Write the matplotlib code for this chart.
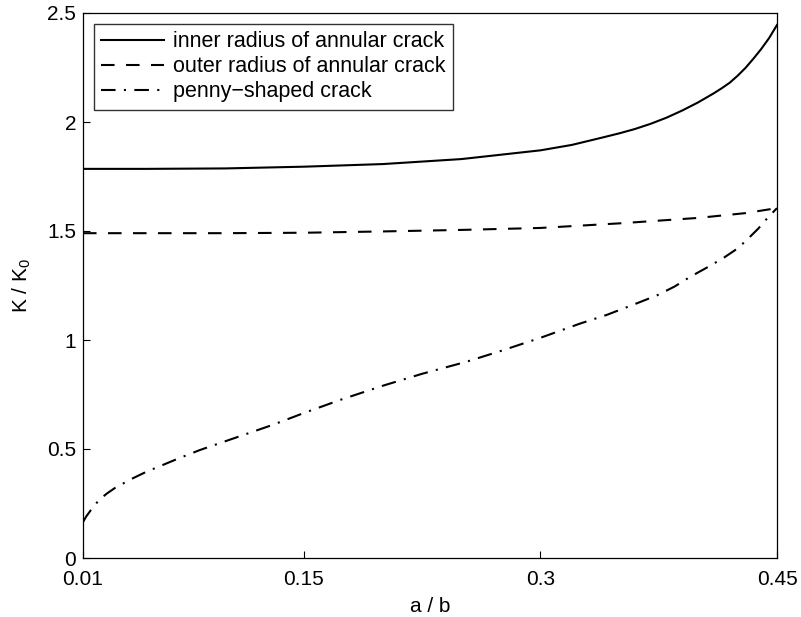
import matplotlib
matplotlib.use("Agg")
import matplotlib.pyplot as plt

plt.rcParams['font.family'] = ['Liberation Sans', 'DejaVu Sans']
plt.rcParams['mathtext.fontset'] = 'custom'
plt.rcParams['mathtext.rm'] = 'Liberation Sans'
plt.rcParams['mathtext.it'] = 'Liberation Sans:italic'

inner_x = [0.01, 0.05, 0.10, 0.15, 0.20, 0.25, 0.30, 0.32, 0.34, 0.35, 0.36, 0.37, 0.38, 0.39,
           0.40, 0.41, 0.415, 0.42, 0.425, 0.43, 0.435, 0.44, 0.445, 0.45]
inner_y = [1.785, 1.785, 1.787, 1.795, 1.807, 1.83, 1.87, 1.895, 1.93, 1.948, 1.968, 1.992, 2.02, 2.053,
           2.09, 2.132, 2.155, 2.18, 2.212, 2.248, 2.29, 2.335, 2.385, 2.445]

outer_x = [0.01, 0.05, 0.10, 0.15, 0.20, 0.25, 0.30, 0.35, 0.40, 0.43, 0.45]
outer_y = [1.49, 1.49, 1.49, 1.492, 1.498, 1.505, 1.514, 1.535, 1.56, 1.582, 1.605]

penny_x = [0.01, 0.012, 0.015, 0.02, 0.025, 0.03, 0.04, 0.05, 0.07, 0.084, 0.10, 0.116, 0.13, 0.15, 0.173,
           0.20, 0.225, 0.253, 0.275, 0.30, 0.325, 0.342, 0.36, 0.374, 0.385, 0.395, 0.405, 0.416,
           0.425, 0.431, 0.438, 0.444, 0.45]
penny_y = [0.165, 0.19, 0.22, 0.265, 0.295, 0.32, 0.36, 0.395, 0.455, 0.495, 0.535, 0.575, 0.61, 0.665, 0.725,
           0.79, 0.845, 0.90, 0.95, 1.01, 1.075, 1.115, 1.165, 1.205, 1.245, 1.29, 1.33, 1.376,
           1.42, 1.46, 1.51, 1.56, 1.605]

labels = ['inner radius of annular crack', 'outer radius of annular crack', 'penny\u2212shaped crack']
xticks = [0.01, 0.15, 0.3, 0.45]
xticklabels = ['0.01', '0.15', '0.3', '0.45']
yticks = [0, 0.5, 1, 1.5, 2, 2.5]
yticklabels = ['0', '0.5', '1', '1.5', '2', '2.5']

fig = plt.figure(figsize=(8.01, 6.17), dpi=100)
ax = fig.add_axes([83/801, 59/617, 694/801, 545/617])

ax.plot(inner_x, inner_y, color='black', lw=1.5, linestyle='-', label=labels[0])
ax.plot(outer_x, outer_y, color='black', lw=1.5, linestyle=(0, (6.5, 5.5)), label=labels[1])
ax.plot(penny_x, penny_y, color='black', lw=1.5, linestyle=(0, (7, 4, 1, 4)), label=labels[2])

ax.set_xlim(0.01, 0.45)
ax.set_ylim(0, 2.5)
ax.set_xticks(xticks)
ax.set_xticklabels(xticklabels)
ax.set_yticks(yticks)
ax.set_yticklabels(yticklabels)
ax.tick_params(direction='in', length=5, width=0.8, labelsize=15)
ax.tick_params(axis='x', pad=8.5)
ax.tick_params(axis='y', pad=5)
for s in ax.spines.values():
    s.set_linewidth(0.9)

ax.set_xlabel('a / b', fontsize=15, labelpad=6)
ax.set_ylabel(r'K / K$_\mathregular{0}$', fontsize=15, labelpad=10)

leg = ax.legend(loc='upper left', fontsize=15.5, frameon=True, fancybox=False,
                edgecolor='black', handlelength=2.9, handletextpad=0.45,
                labelspacing=0.18, borderpad=0.35, borderaxespad=0.5)
leg.get_frame().set_linewidth(1.0)

fig.savefig('out.png', dpi=100)
